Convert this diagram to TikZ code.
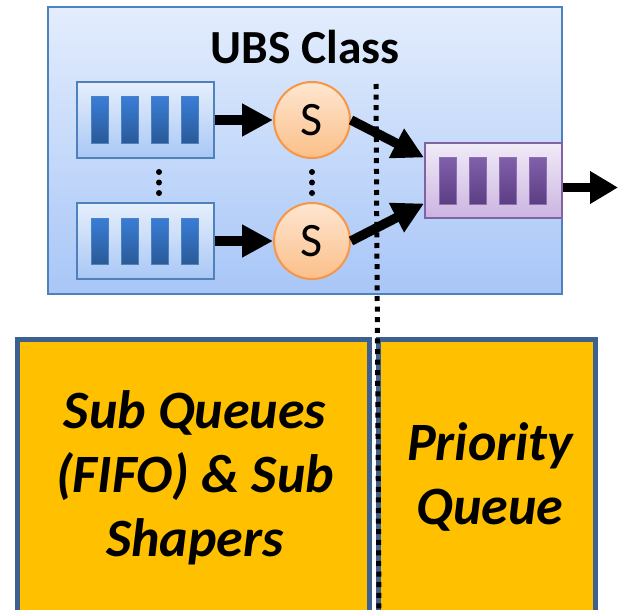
\documentclass[tikz,border=0pt]{standalone}
\usepackage{fontspec}
\setmainfont{Carlito}
\usetikzlibrary{arrows.meta}

\definecolor{clsTop}{HTML}{E3EDFD}
\definecolor{clsBot}{HTML}{A8C6F7}
\definecolor{clsEdge}{HTML}{4F81BD}
\definecolor{qTop}{HTML}{E6EFFC}
\definecolor{qBot}{HTML}{A9C7F5}
\definecolor{barTop}{HTML}{3A7DD6}
\definecolor{barBot}{HTML}{2A5A97}
\definecolor{barEdge}{HTML}{4A82C4}
\definecolor{sTop}{HTML}{FEE6D1}
\definecolor{sBot}{HTML}{FBBF88}
\definecolor{sEdge}{HTML}{F79646}
\definecolor{pTop}{HTML}{F1EBF8}
\definecolor{pBot}{HTML}{CBB4E1}
\definecolor{pEdge}{HTML}{8064A2}
\definecolor{pbarTop}{HTML}{8060AA}
\definecolor{pbarBot}{HTML}{5D3E84}
\definecolor{pbarEdge}{HTML}{8C70B0}
\definecolor{gold}{HTML}{FFC000}
\definecolor{slate}{HTML}{3E6090}

\tikzset{
  classbox/.style={draw=clsEdge, line width=2pt, top color=clsTop, bottom color=clsBot,
    minimum width=514pt, minimum height=287pt, inner sep=0pt},
  queuebox/.style={draw=clsEdge, line width=2pt, top color=qTop, bottom color=qBot,
    minimum width=137pt, minimum height=76pt, inner sep=0pt},
  qbar/.style={draw=barEdge, line width=1pt, top color=barTop, bottom color=barBot,
    minimum width=17pt, minimum height=46pt, inner sep=0pt},
  prioqueue/.style={draw=pEdge, line width=2pt, top color=pTop, bottom color=pBot,
    minimum width=137pt, minimum height=75pt, inner sep=0pt},
  pbar/.style={draw=pbarEdge, line width=1pt, top color=pbarTop, bottom color=pbarBot,
    minimum width=17pt, minimum height=47pt, inner sep=0pt},
  shaper/.style={circle, draw=sEdge, line width=2pt, top color=sTop, bottom color=sBot,
    minimum size=76pt, inner sep=0pt, font=\fontsize{48}{48}\selectfont},
  flow/.style={line width=9.5pt, -{Triangle[length=31pt,width=31pt]}},
  vdot/.style={circle, fill=black, minimum size=6pt, inner sep=0pt},
  panel/.style={draw=slate, line width=5pt, fill=gold},
  panellabel/.style={align=center, font=\fontsize{54}{64}\selectfont\bfseries\itshape}
}

\begin{document}
\begin{tikzpicture}[x=1pt, y=-1pt]
\useasboundingbox (0,0) rectangle (619,610);

% lower panels (run past the bottom edge)
\draw[panel] (17.5,339.5) rectangle (369,640);
\draw[panel] (378,339.5) rectangle (595.5,640);
\node[panellabel] (lbl1) at (195,478) {Sub Queues\\(FIFO) \& Sub\\Shapers};
\node[panellabel] (lbl2) at (490,477) {Priority\\Queue};

% class container
\node[classbox] (cls) at (304.5,150.5) {};
\node[font=\fontsize{47.5}{47.5}\selectfont\bfseries] (title) at (305,47) {UBS Class};

% sub queues
\node[queuebox] (q1) at (145.5,120) {};
\node[queuebox] (q2) at (145.5,241) {};
\foreach \q in {q1,q2}
  \foreach \i in {0,...,3}
    \node[qbar] (\q b\i) at ([xshift={23.5pt+30pt*\i}]\q.west) {};

% sub shapers
\node[shaper] (s1) at (312,120) {S};
\node[shaper] (s2) at (312,241) {S};

% priority queue
\node[prioqueue] (pq) at (493.5,180.5) {};
\foreach \i in {0,...,3}
  \node[pbar] (pqb\i) at ([xshift={23.5pt+30pt*\i}]pq.west) {};

% ellipsis dots
\foreach \y [count=\k] in {172,182.5,193} {
  \node[vdot] (dq\k) at (159,\y) {};
  \node[vdot] (ds\k) at (312,\y) {};
}

% flows
\draw[flow] (q1.east) -- (s1.west);
\draw[flow] (q2.east) -- (s2.west);
\draw[flow] (s1.east) -- ([yshift=23pt]pq.west);
\draw[flow] (s2.east) -- ([yshift=-23pt]pq.west);
\coordinate (out) at (618,187.5);
\draw[line width=9.5pt, -{Triangle[length=28pt,width=31pt]}] (pq.east |- out) -- (out);

% dotted divider
\coordinate (divtop) at (376,84);
\coordinate (divbot) at (379,612);
\draw[line width=5pt, dash pattern=on 5pt off 5.6pt] (divtop) -- (divbot);
\end{tikzpicture}
\end{document}
